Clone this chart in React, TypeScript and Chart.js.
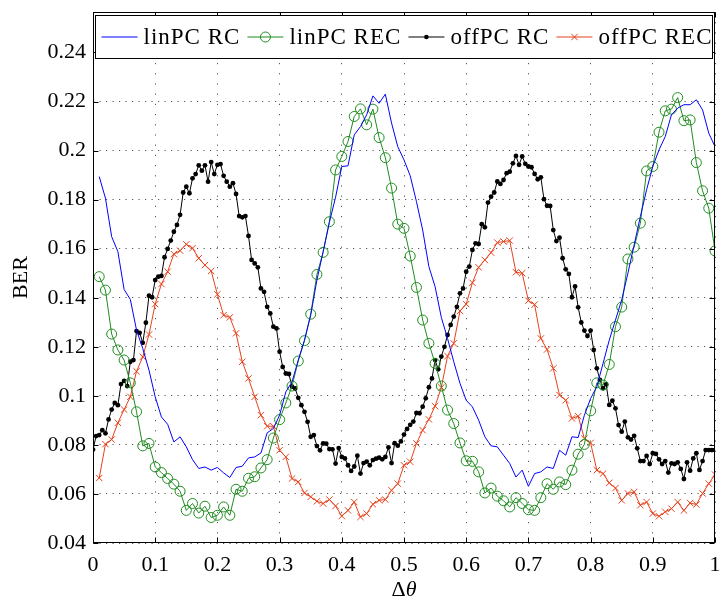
import React, { useEffect, useRef } from 'react';
import { Chart, registerables } from 'chart.js';

Chart.register(...registerables);

// ---------- data ----------
const X_TICKS = [0, 0.1, 0.2, 0.3, 0.4, 0.5, 0.6, 0.7, 0.8, 0.9, 1];
const X_TICK_LABELS = ['0', '0.1', '0.2', '0.3', '0.4', '0.5', '0.6', '0.7', '0.8', '0.9', '1'];
const Y_TICKS = [0.04, 0.06, 0.08, 0.1, 0.12, 0.14, 0.16, 0.18, 0.2, 0.22, 0.24];
const Y_TICK_LABELS = ['0.04', '0.06', '0.08', '0.1', '0.12', '0.14', '0.16', '0.18', '0.2', '0.22', '0.24'];
const X_TITLE_UPRIGHT = 'Δ';
const X_TITLE_ITALIC = 'θ';
const Y_TITLE = 'BER';
const SERIES_LABELS = ['linPC RC', 'linPC REC', 'offPC RC', 'offPC REC'];

// sample positions: 0.01 .. 1.00 (coarse) and 0 .. 1 in 0.005 steps (fine)
const X_COARSE = Array.from({ length: 100 }, (_, k) => (k + 1) / 100);
const X_FINE = Array.from({ length: 201 }, (_, k) => k / 200);

const LINPC_RC = [
  0.1894, 0.1806, 0.1649, 0.1588, 0.1434, 0.1393, 0.1268, 0.1193, 0.1105, 0.0996,
  0.0914, 0.0884, 0.0812, 0.0833, 0.0792, 0.0740, 0.0704, 0.0710, 0.0697, 0.0708,
  0.0686, 0.0667, 0.0708, 0.0713, 0.0747, 0.0751, 0.0767, 0.0849, 0.0867, 0.0921,
  0.1016, 0.1057, 0.1146, 0.1227, 0.1329, 0.1472, 0.1588, 0.1707, 0.1810, 0.1935,
  0.1938, 0.2064, 0.2098, 0.2146, 0.2223, 0.2193, 0.2230, 0.2112, 0.2016, 0.1962,
  0.1897, 0.1792, 0.1676, 0.1527, 0.1445, 0.1320, 0.1234, 0.1139, 0.1051, 0.0982,
  0.0955, 0.0901, 0.0833, 0.0796, 0.0792, 0.0758, 0.0724, 0.0669, 0.0697, 0.0631,
  0.0683, 0.0690, 0.0710, 0.0704, 0.0778, 0.0758, 0.0833, 0.0830, 0.0921, 0.0989,
  0.1037, 0.1132, 0.1227, 0.1309, 0.1391, 0.1500, 0.1615, 0.1731, 0.1840, 0.1935,
  0.2003, 0.2057, 0.2146, 0.2173, 0.2187, 0.2187, 0.2207, 0.2166, 0.2071, 0.2016,
];

const LINPC_REC = [
  0.1486, 0.1431, 0.1252, 0.1187, 0.1146, 0.1053, 0.0935, 0.0796, 0.0806, 0.0710,
  0.0687, 0.0663, 0.0640, 0.0611, 0.0533, 0.0561, 0.0522, 0.0550, 0.0504, 0.0513,
  0.0547, 0.0513, 0.0619, 0.0611, 0.0664, 0.0670, 0.0706, 0.0740, 0.0828, 0.0903,
  0.0971, 0.1040, 0.1142, 0.1225, 0.1333, 0.1495, 0.1585, 0.1710, 0.1921, 0.1976,
  0.2037, 0.2139, 0.2170, 0.2105, 0.2169, 0.2053, 0.1971, 0.1847, 0.1700, 0.1683,
  0.1570, 0.1442, 0.1309, 0.1214, 0.1132, 0.1040, 0.0942, 0.0887, 0.0808, 0.0735,
  0.0733, 0.0690, 0.0604, 0.0624, 0.0591, 0.0572, 0.0547, 0.0585, 0.0561, 0.0536,
  0.0533, 0.0585, 0.0642, 0.0619, 0.0649, 0.0638, 0.0697, 0.0762, 0.0802, 0.0939,
  0.1053, 0.1044, 0.1128, 0.1282, 0.1362, 0.1558, 0.1606, 0.1704, 0.1917, 0.1935,
  0.2075, 0.2162, 0.2169, 0.2216, 0.2122, 0.2125, 0.1951, 0.1836, 0.1765, 0.1591,
];

const OFFPC_RC = [
  0.0781, 0.0836, 0.0840, 0.0860, 0.0847, 0.0904, 0.0944, 0.0971, 0.0962, 0.1048,
  0.1061, 0.1040, 0.1139, 0.1146, 0.1264, 0.1257, 0.1216, 0.1298, 0.1408, 0.1402,
  0.1472, 0.1486, 0.1489, 0.1565, 0.1599, 0.1633, 0.1669, 0.1697, 0.1738, 0.1829,
  0.1853, 0.1826, 0.1887, 0.1904, 0.1940, 0.1918, 0.1940, 0.1873, 0.1953, 0.1904,
  0.1942, 0.1945, 0.1897, 0.1873, 0.1853, 0.1867, 0.1823, 0.1733, 0.1728, 0.1733,
  0.1652, 0.1554, 0.1540, 0.1524, 0.1438, 0.1424, 0.1363, 0.1336, 0.1282, 0.1275,
  0.1180, 0.1118, 0.1091, 0.1089, 0.1037, 0.1030, 0.0992, 0.0962, 0.0935, 0.0894,
  0.0833, 0.0840, 0.0795, 0.0778, 0.0806, 0.0805, 0.0783, 0.0782, 0.0724, 0.0787,
  0.0751, 0.0745, 0.0717, 0.0694, 0.0712, 0.0756, 0.0683, 0.0726, 0.0732, 0.0717,
  0.0738, 0.0744, 0.0748, 0.0741, 0.0751, 0.0790, 0.0726, 0.0807, 0.0797, 0.0814,
  0.0842, 0.0865, 0.0882, 0.0895, 0.0930, 0.0929, 0.0956, 0.0990, 0.1035, 0.1071,
  0.1146, 0.1108, 0.1160, 0.1200, 0.1248, 0.1289, 0.1323, 0.1363, 0.1418, 0.1438,
  0.1506, 0.1527, 0.1595, 0.1622, 0.1619, 0.1700, 0.1687, 0.1788, 0.1812, 0.1829,
  0.1874, 0.1864, 0.1880, 0.1908, 0.1914, 0.1948, 0.1978, 0.1942, 0.1976, 0.1946,
  0.1935, 0.1932, 0.1905, 0.1883, 0.1891, 0.1802, 0.1775, 0.1774, 0.1676, 0.1631,
  0.1645, 0.1561, 0.1516, 0.1497, 0.1402, 0.1446, 0.1361, 0.1299, 0.1266, 0.1244,
  0.1266, 0.1187, 0.1112, 0.1065, 0.1031, 0.1047, 0.0963, 0.0980, 0.0949, 0.0881,
  0.0854, 0.0895, 0.0831, 0.0822, 0.0837, 0.0786, 0.0734, 0.0734, 0.0755, 0.0722,
  0.0766, 0.0763, 0.0741, 0.0722, 0.0734, 0.0687, 0.0725, 0.0722, 0.0729, 0.0702,
  0.0661, 0.0729, 0.0695, 0.0745, 0.0766, 0.0698, 0.0734, 0.0779, 0.0779, 0.0779,
  0.0779,
];

const OFFPC_REC = [
  0.0665, 0.0803, 0.0822, 0.0890, 0.0944, 0.0996, 0.1100, 0.1159, 0.1250, 0.1374,
  0.1456, 0.1506, 0.1578, 0.1592, 0.1618, 0.1602, 0.1561, 0.1533, 0.1509, 0.1414,
  0.1329, 0.1320, 0.1255, 0.1139, 0.1071, 0.0996, 0.0921, 0.0876, 0.0876, 0.0778,
  0.0751, 0.0663, 0.0649, 0.0604, 0.0588, 0.0570, 0.0561, 0.0577, 0.0551, 0.0510,
  0.0533, 0.0567, 0.0506, 0.0520, 0.0558, 0.0574, 0.0577, 0.0615, 0.0642, 0.0717,
  0.0731, 0.0806, 0.0860, 0.0904, 0.0958, 0.1034, 0.1162, 0.1214, 0.1346, 0.1374,
  0.1461, 0.1524, 0.1554, 0.1584, 0.1625, 0.1629, 0.1633, 0.1504, 0.1500, 0.1388,
  0.1372, 0.1234, 0.1189, 0.1112, 0.1003, 0.0982, 0.0908, 0.0917, 0.0826, 0.0808,
  0.0697, 0.0683, 0.0645, 0.0624, 0.0574, 0.0602, 0.0608, 0.0554, 0.0567, 0.0520,
  0.0509, 0.0527, 0.0540, 0.0567, 0.0533, 0.0563, 0.0557, 0.0602, 0.0642, 0.0679,
];

// ---------- styles ----------
const FONT = '"Liberation Serif", "Times New Roman", serif';
const BLUE = '#0000ff';
const GREEN = '#1f8c1f';
const BLACK = '#000000';
const RED = '#e5421c';

const pts = (xs: number[], ys: number[]) => xs.map((x, k) => ({ x, y: ys[k] }));

function drawMarker(ctx: CanvasRenderingContext2D, kind: string, color: string, x: number, y: number) {
  ctx.save();
  ctx.strokeStyle = color;
  ctx.fillStyle = color;
  ctx.lineWidth = 1;
  if (kind === 'circle') {
    ctx.beginPath();
    ctx.arc(x, y, 5, 0, Math.PI * 2);
    ctx.stroke();
  } else if (kind === 'dot') {
    ctx.beginPath();
    ctx.arc(x, y, 2.3, 0, Math.PI * 2);
    ctx.fill();
  } else if (kind === 'cross') {
    const r = 3.2;
    ctx.beginPath();
    ctx.moveTo(x - r, y - r);
    ctx.lineTo(x + r, y + r);
    ctx.moveTo(x - r, y + r);
    ctx.lineTo(x + r, y - r);
    ctx.stroke();
  }
  ctx.restore();
}

const MARKER_KINDS = ['none', 'circle', 'dot', 'cross'];

const framePlugin = {
  id: 'frameAndLegend',
  afterDraw(chart: any) {
    const ctx: CanvasRenderingContext2D = chart.ctx;
    const { left, right, top, bottom } = chart.chartArea;
    const xs = chart.scales.x;
    const ys = chart.scales.y;
    ctx.save();
    // frame
    ctx.strokeStyle = '#000';
    ctx.lineWidth = 1;
    const L = Math.round(left) + 0.5;
    const R = Math.round(right) - 0.5;
    const T = Math.round(top) + 0.5;
    const B = Math.round(bottom) - 0.5;
    ctx.strokeRect(L, T, R - L, B - T);
    // inward ticks
    const tl = 5;
    ctx.beginPath();
    X_TICKS.forEach((v) => {
      const p = Math.round(xs.getPixelForValue(v)) + 0.5;
      ctx.moveTo(p, B);
      ctx.lineTo(p, B - tl);
      ctx.moveTo(p, T);
      ctx.lineTo(p, T + tl);
    });
    Y_TICKS.forEach((v) => {
      const p = Math.round(ys.getPixelForValue(v)) + 0.5;
      ctx.moveTo(L, p);
      ctx.lineTo(L + tl, p);
      ctx.moveTo(R, p);
      ctx.lineTo(R - tl, p);
    });
    ctx.stroke();

    // legend box
    const bl = L + 2;
    const br = R - 2;
    const bt = T + 3;
    const bb = T + 46;
    ctx.fillStyle = '#fff';
    ctx.fillRect(bl, bt, br - bl, bb - bt);
    ctx.strokeRect(bl, bt, br - bl, bb - bt);
    ctx.font = `23px ${FONT}`;
    (ctx as any).letterSpacing = '1px';
    ctx.textBaseline = 'middle';
    ctx.textAlign = 'left';
    const sample = 36;
    const gapIn = 6;
    const marginL = 6;
    const marginR = 1;
    const widths = SERIES_LABELS.map((t) => ctx.measureText(t).width - 1);
    const used = widths.reduce((a, b) => a + b, 0) + SERIES_LABELS.length * (sample + gapIn);
    const gap = (br - bl - marginL - marginR - used) / (SERIES_LABELS.length - 1);
    let x = bl + marginL;
    const cy = (bt + bb) / 2;
    chart.data.datasets.forEach((ds: any, i: number) => {
      ctx.strokeStyle = ds.borderColor;
      ctx.lineWidth = 1;
      ctx.beginPath();
      ctx.moveTo(x, cy);
      ctx.lineTo(x + sample, cy);
      ctx.stroke();
      drawMarker(ctx, MARKER_KINDS[i], ds.borderColor, x + sample / 2, cy);
      ctx.fillStyle = '#000';
      ctx.fillText(ds.label, x + sample + gapIn, cy + 1);
      x += sample + gapIn + widths[i] + gap;
    });
    (ctx as any).letterSpacing = '0px';

    // axis titles
    ctx.fillStyle = '#000';
    ctx.font = `22px ${FONT}`;
    ctx.textAlign = 'center';
    ctx.textBaseline = 'middle';
    ctx.save();
    ctx.translate(21, (top + bottom) / 2);
    ctx.rotate(-Math.PI / 2);
    ctx.fillText(Y_TITLE, 0, 0);
    ctx.restore();

    const midX = (left + right) / 2;
    const ty = 590;
    ctx.font = `22px ${FONT}`;
    const w1 = ctx.measureText(X_TITLE_UPRIGHT).width;
    ctx.font = `italic 22px ${FONT}`;
    const w2 = ctx.measureText(X_TITLE_ITALIC).width;
    const sx = midX - (w1 + w2) / 2;
    ctx.textAlign = 'left';
    ctx.font = `22px ${FONT}`;
    ctx.fillText(X_TITLE_UPRIGHT, sx, ty);
    ctx.font = `italic 22px ${FONT}`;
    ctx.fillText(X_TITLE_ITALIC, sx + w1, ty);
    ctx.restore();
  },
};

function labelFor(values: number[], labels: string[], v: number) {
  const k = values.findIndex((t) => Math.abs(t - v) < 1e-9);
  return k >= 0 ? labels[k] : '';
}

export default function App() {
  const ref = useRef<HTMLCanvasElement>(null);
  useEffect(() => {
    if (!ref.current) return;
    const chart = new Chart(ref.current, {
      type: 'line',
      data: {
        datasets: [
          {
            label: SERIES_LABELS[0],
            data: pts(X_COARSE, LINPC_RC),
            borderColor: BLUE,
            borderWidth: 1,
            pointRadius: 0,
            fill: false,
            tension: 0,
          },
          {
            label: SERIES_LABELS[1],
            data: pts(X_COARSE, LINPC_REC),
            borderColor: GREEN,
            borderWidth: 1,
            pointStyle: 'circle',
            pointRadius: 5,
            pointBorderWidth: 1,
            pointBorderColor: GREEN,
            pointBackgroundColor: 'rgba(0,0,0,0)',
            fill: false,
            tension: 0,
          },
          {
            label: SERIES_LABELS[2],
            data: pts(X_FINE, OFFPC_RC),
            borderColor: BLACK,
            borderWidth: 1,
            pointStyle: 'circle',
            pointRadius: 2.4,
            pointBorderWidth: 0,
            pointBackgroundColor: BLACK,
            fill: false,
            tension: 0,
          },
          {
            label: SERIES_LABELS[3],
            data: pts(X_COARSE, OFFPC_REC),
            borderColor: RED,
            borderWidth: 1,
            pointStyle: 'crossRot',
            pointRadius: 4.5,
            pointBorderWidth: 1,
            pointBorderColor: RED,
            fill: false,
            tension: 0,
          },
        ],
      },
      options: {
        animation: false,
        responsive: false,
        events: [],
        layout: { padding: { left: 0, right: 2, top: 12, bottom: 0 } },
        plugins: { legend: { display: false }, tooltip: { enabled: false } },
        scales: {
          x: {
            type: 'linear',
            min: 0,
            max: 1,
            afterBuildTicks: (s: any) => {
              s.ticks = X_TICKS.map((v) => ({ value: v }));
            },
            afterFit: (s: any) => {
              s.height = 63;
              s.paddingLeft = 0;
              s.paddingRight = 0;
            },
            ticks: {
              autoSkip: false,
              maxRotation: 0,
              padding: 9,
              color: '#000',
              font: { family: FONT, size: 22 },
              callback: (v: any) => labelFor(X_TICKS, X_TICK_LABELS, Number(v)),
            },
            grid: { color: '#555', lineWidth: 1, drawTicks: false },
            border: { display: false, dash: [1.2, 9] },
          },
          y: {
            type: 'linear',
            min: 0.04,
            max: 0.2565,
            afterBuildTicks: (s: any) => {
              s.ticks = Y_TICKS.map((v) => ({ value: v }));
            },
            afterFit: (s: any) => {
              s.width = 93;
              s.paddingTop = 0;
              s.paddingBottom = 0;
            },
            ticks: {
              autoSkip: false,
              padding: 7,
              color: '#000',
              font: { family: FONT, size: 22 },
              callback: (v: any) => labelFor(Y_TICKS, Y_TICK_LABELS, Number(v)),
            },
            grid: { color: '#555', lineWidth: 1, drawTicks: false },
            border: { display: false, dash: [1.2, 5.3] },
          },
        },
      },
      plugins: [framePlugin],
    } as any);
    return () => chart.destroy();
  }, []);
  return (
    <div style={{ position: 'absolute', left: 0, top: 0, width: 721, height: 606, background: '#fff' }}>
      <canvas ref={ref} width={721} height={606} style={{ display: 'block', width: 721, height: 606 }} />
    </div>
  );
}
